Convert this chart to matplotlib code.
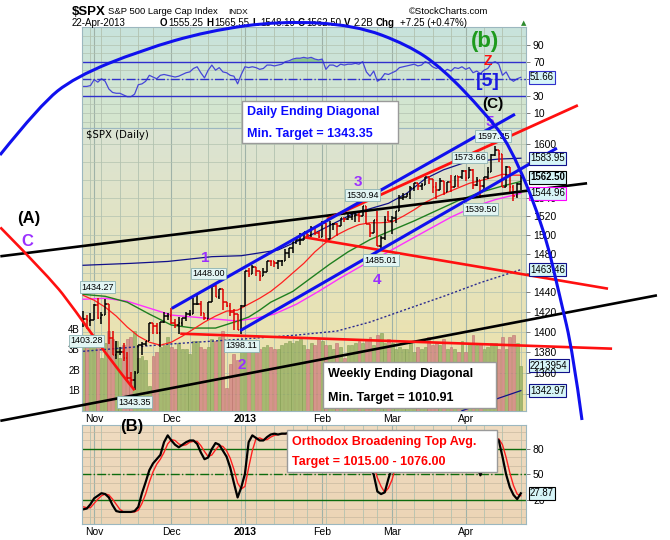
import numpy as np
import pandas as pd
import matplotlib
matplotlib.use("Agg")
import matplotlib.pyplot as plt
import matplotlib.transforms as mtrans
from matplotlib.colors import to_rgb
from matplotlib.path import Path
from matplotlib.patches import PathPatch, Rectangle

plt.rcParams['font.family'] = ['Liberation Sans', 'DejaVu Sans']

# trading days (Sandy closure + holidays removed), day 0 = 1 Nov 2012
holidays = ['2012-10-29', '2012-10-30', '2012-11-22', '2012-12-25',
            '2013-01-01', '2013-01-21', '2013-02-18', '2013-03-29']
dates = pd.bdate_range('2012-10-25', '2013-04-22')
dates = dates[~dates.isin(pd.to_datetime(holidays))]
day = np.arange(len(dates)) - 3

# OHLC, one line per month (Oct, Nov, Dec, Jan, Feb, Mar, Apr)
opens = [1409.74, 1412.97, 1410.99,
         1412.20, 1427.59, 1414.02, 1417.26, 1428.27, 1394.53, 1377.55, 1379.86, 1380.03, 1374.64, 1355.41, 1353.36, 1359.88, 1386.82, 1387.79, 1391.03, 1409.15, 1406.29, 1398.77, 1409.96, 1415.95,
         1416.34, 1409.46, 1407.05, 1409.43, 1413.95, 1418.07, 1418.55, 1427.84, 1428.48, 1419.45, 1413.54, 1430.47, 1446.79, 1435.81, 1443.67, 1430.15, 1426.66, 1419.83, 1418.10, 1402.43,
         1426.19, 1462.42, 1459.37, 1466.47, 1461.89, 1457.15, 1461.02, 1472.12, 1472.05, 1470.67, 1472.33, 1472.63, 1480.95, 1485.98, 1492.56, 1494.81, 1494.82, 1502.96, 1500.18, 1507.84, 1501.96,
         1498.11, 1513.17, 1495.71, 1511.29, 1512.12, 1509.39, 1517.93, 1517.01, 1519.43, 1520.33, 1521.38, 1519.79, 1530.94, 1511.95, 1502.42, 1515.60, 1487.85, 1496.94, 1515.99,
         1514.68, 1518.20, 1525.20, 1539.79, 1541.46, 1544.26, 1551.15, 1556.22, 1552.48, 1554.52, 1563.21, 1560.70, 1552.10, 1548.34, 1558.71, 1545.90, 1556.89, 1551.69, 1563.75, 1562.86,
         1569.18, 1562.17, 1570.25, 1553.69, 1559.98, 1553.26, 1563.11, 1568.61, 1587.73, 1593.30, 1588.84, 1552.36, 1574.57, 1552.03, 1541.61, 1555.25]
highs = [1421.12, 1417.09, 1418.76,
         1428.35, 1434.27, 1419.90, 1433.38, 1428.27, 1401.23, 1391.39, 1384.87, 1388.81, 1380.13, 1360.62, 1362.03, 1386.89, 1389.77, 1391.25, 1409.16, 1409.15, 1409.01, 1410.31, 1419.70, 1418.86,
         1423.73, 1413.14, 1415.56, 1413.95, 1420.34, 1421.64, 1434.27, 1438.59, 1431.36, 1419.45, 1430.67, 1448.00, 1447.75, 1443.70, 1443.67, 1430.15, 1429.42, 1422.80, 1418.10, 1426.74,
         1462.43, 1465.47, 1467.94, 1466.47, 1461.89, 1464.73, 1472.30, 1472.75, 1472.05, 1473.31, 1473.96, 1485.16, 1485.98, 1492.56, 1496.13, 1502.27, 1503.26, 1503.23, 1509.35, 1509.94, 1504.19,
         1514.41, 1513.17, 1514.96, 1512.53, 1512.90, 1518.31, 1518.31, 1522.29, 1524.69, 1523.14, 1524.24, 1530.94, 1530.94, 1511.95, 1515.64, 1525.84, 1498.99, 1520.08, 1525.34,
         1519.99, 1525.27, 1543.47, 1545.25, 1545.78, 1552.48, 1556.27, 1556.77, 1556.39, 1563.32, 1563.62, 1560.70, 1557.25, 1561.56, 1558.71, 1557.74, 1564.91, 1563.95, 1564.07, 1570.28,
         1570.57, 1573.66, 1571.47, 1562.60, 1559.98, 1563.07, 1573.89, 1589.07, 1597.35, 1593.30, 1588.84, 1575.35, 1574.57, 1554.38, 1555.89, 1565.55]
lows = [1405.14, 1403.28, 1405.95,
        1412.20, 1412.91, 1408.13, 1417.26, 1388.14, 1377.51, 1373.03, 1377.19, 1371.39, 1352.50, 1348.05, 1343.35, 1359.88, 1377.04, 1386.39, 1391.03, 1397.68, 1398.03, 1385.43, 1409.04, 1411.63,
        1408.46, 1403.65, 1398.23, 1405.93, 1410.90, 1415.64, 1418.55, 1426.76, 1416.00, 1411.88, 1413.54, 1430.47, 1435.80, 1432.82, 1422.58, 1424.66, 1416.43, 1401.80, 1401.58, 1398.11,
        1426.19, 1455.53, 1458.99, 1456.62, 1451.64, 1457.15, 1461.02, 1467.58, 1465.69, 1463.76, 1467.60, 1472.63, 1475.81, 1481.16, 1489.90, 1489.46, 1494.82, 1496.33, 1498.09, 1500.11, 1496.76,
        1498.11, 1495.02, 1495.71, 1504.71, 1498.49, 1509.39, 1513.61, 1515.61, 1515.93, 1514.02, 1514.14, 1519.79, 1511.41, 1497.29, 1502.42, 1487.85, 1485.01, 1494.88, 1514.46,
        1501.48, 1512.29, 1525.20, 1538.11, 1541.46, 1539.19, 1547.36, 1548.24, 1548.25, 1554.52, 1555.74, 1545.13, 1538.57, 1548.34, 1543.55, 1545.90, 1546.22, 1551.69, 1551.90, 1561.08,
        1558.47, 1562.17, 1549.80, 1552.52, 1539.50, 1548.63, 1560.92, 1568.61, 1586.17, 1579.97, 1552.28, 1552.36, 1543.69, 1536.03, 1539.40, 1548.19]
closes = [1412.97, 1411.94, 1412.16,
          1427.59, 1414.20, 1417.26, 1428.39, 1394.53, 1377.51, 1379.85, 1380.03, 1374.53, 1355.49, 1353.33, 1359.88, 1386.89, 1387.81, 1391.03, 1409.15, 1406.29, 1398.94, 1409.93, 1415.95, 1416.18,
          1409.46, 1407.05, 1409.28, 1413.94, 1418.07, 1418.55, 1427.84, 1428.48, 1419.45, 1413.58, 1430.36, 1446.79, 1435.81, 1443.69, 1430.15, 1426.66, 1419.83, 1418.10, 1402.43, 1426.19,
          1462.42, 1459.37, 1466.47, 1461.89, 1457.15, 1461.02, 1472.12, 1472.05, 1470.68, 1472.34, 1472.63, 1480.94, 1485.98, 1492.56, 1494.81, 1494.82, 1502.96, 1500.18, 1507.84, 1501.96, 1498.11,
          1513.17, 1495.71, 1511.29, 1512.12, 1509.39, 1517.93, 1517.01, 1519.43, 1520.33, 1521.38, 1519.79, 1530.94, 1511.95, 1502.42, 1515.60, 1487.85, 1496.94, 1515.99, 1514.68,
          1518.20, 1525.20, 1539.79, 1541.46, 1544.26, 1551.18, 1556.22, 1552.48, 1554.52, 1563.23, 1560.70, 1552.10, 1548.34, 1558.71, 1545.80, 1556.89, 1551.69, 1563.77, 1562.85, 1569.19,
          1562.17, 1570.25, 1553.69, 1559.98, 1553.28, 1563.07, 1568.61, 1587.73, 1593.37, 1588.85, 1552.36, 1574.57, 1552.01, 1541.61, 1555.25, 1562.50]
# volume in billions
volume_b = [3.3, 3.2, 3.6,
            3.7, 3.4, 2.6, 3.3, 3.9, 3.5, 3.4, 2.6, 3.2, 3.5, 3.6, 3.9, 2.6, 2.7, 2.5, 1.2, 2.7, 2.9, 3.1, 3.2, 3.6,
            3.1, 3.0, 3.3, 3.0, 3.0, 2.8, 3.4, 3.4, 3.1, 3.0, 3.1, 3.5, 3.4, 3.6, 3.9, 1.1, 2.3, 2.8, 2.5, 3.1,
            3.3, 3.2, 3.0, 3.2, 3.0, 3.1, 3.2, 3.1, 3.0, 3.0, 3.2, 3.3, 3.4, 3.3, 3.4, 3.5, 3.2, 3.0, 3.3, 3.2, 3.5,
            3.4, 3.2, 3.2, 3.0, 3.3, 3.1, 2.6, 3.2, 3.2, 3.3, 3.4, 3.3, 3.5, 3.6, 3.2, 3.7, 3.8, 3.3, 3.5,
            3.3, 3.0, 3.1, 3.0, 3.0, 3.3, 2.9, 3.1, 3.0, 3.1, 3.6, 3.2, 3.3, 3.2, 3.5, 3.0, 3.1, 3.0, 2.9, 3.4,
            2.9, 3.3, 3.7, 3.2, 3.3, 3.0, 3.1, 3.3, 3.3, 3.0, 3.6, 3.0, 3.6, 3.7, 3.3, 2.213954]
rsi = [41, 41, 42,
       49, 46, 50, 47, 38, 34, 33, 33, 31, 29, 29, 32, 43, 44, 47, 54, 52, 50, 54, 55, 54,
       53, 52, 53, 55, 57, 58, 62, 64, 57, 51, 60, 66, 60, 63, 58, 57, 54, 53, 44, 55,
       64, 63, 64, 63, 61, 62, 66, 66, 65, 66, 67, 70, 71, 73, 74, 74, 75, 74, 75, 73, 72,
       73, 61, 66, 66, 64, 67, 66, 67, 67, 68, 67, 70, 58, 53, 59, 47, 50, 56, 55,
       57, 59, 63, 64, 65, 66, 67, 65, 66, 70, 68, 64, 62, 64, 58, 61, 59, 63, 62, 64,
       61, 63, 57, 59, 56, 60, 62, 68, 70, 67, 54, 58, 50, 47, 50, 51.66]
stoch_k = [9, 10, 15,
           22, 25, 28, 27, 23, 14, 7, 6, 6, 6, 6, 7, 12, 28, 41, 55, 63, 68, 73, 88, 96,
           90, 85, 82, 85, 88, 90, 90, 86, 76, 68, 70, 80, 87, 85, 78, 71, 58, 40, 23, 35,
           51, 88, 96, 93, 90, 90, 94, 97, 98, 97, 98, 98, 99, 99, 98, 97, 97, 96, 97, 95, 93,
           94, 78, 80, 82, 80, 90, 91, 93, 94, 93, 92, 96, 76, 58, 50, 30, 27, 29, 45,
           59, 75, 90, 93, 95, 97, 98, 93, 93, 97, 94, 80, 72, 78, 64, 72, 70, 82, 85, 92,
           84, 88, 66, 60, 49, 62, 75, 92, 94, 90, 71, 50, 35, 26, 21, 27.87]
stoch_d = [12, 11, 11,
           16, 21, 25, 27, 26, 21, 15, 9, 6, 6, 6, 6, 8, 16, 27, 41, 53, 62, 68, 76, 86,
           91, 90, 86, 84, 85, 88, 89, 89, 84, 77, 71, 73, 79, 84, 83, 78, 69, 56, 40, 33,
           36, 58, 78, 92, 93, 91, 91, 94, 96, 97, 98, 98, 98, 99, 99, 98, 97, 97, 97, 96, 95,
           94, 88, 84, 80, 81, 84, 87, 91, 93, 93, 93, 94, 88, 77, 61, 46, 36, 29, 34,
           44, 60, 75, 86, 93, 95, 97, 96, 95, 94, 95, 90, 82, 77, 71, 71, 69, 75, 79, 86,
           87, 88, 79, 71, 58, 57, 62, 76, 87, 92, 85, 70, 52, 37, 27, 25]

assert len(set(map(len, [dates, opens, highs, lows, closes, volume_b, rsi, stoch_k, stoch_d]))) == 1, \
    [len(v) for v in [dates, opens, highs, lows, closes, volume_b, rsi, stoch_k, stoch_d]]

# overlay lines: (day, value)
ma_red_d = [-3, 0, 3, 6, 9, 12, 15, 18, 21, 24, 27, 30, 33, 36, 39, 42, 45, 48, 51, 54, 57, 60, 63, 66, 69, 72, 75, 78, 81, 84, 87, 90, 93, 96, 99, 102, 105, 108, 111, 114, 116]
ma_red_v = [1437, 1432, 1425, 1416, 1405, 1396, 1390, 1387, 1390, 1396, 1403, 1410, 1416, 1421, 1422, 1428, 1434, 1441, 1450, 1460, 1470, 1482, 1492, 1500, 1506, 1511, 1513, 1513, 1514, 1520, 1527, 1535, 1541, 1546, 1551, 1556, 1559, 1562, 1566, 1565, 1565]
ma_green_d = [-3, 3, 9, 15, 21, 27, 33, 39, 42, 45, 48, 54, 59, 64, 69, 75, 81, 87, 93, 99, 105, 111, 116]
ma_green_v = [1438, 1436, 1430, 1418, 1407, 1404, 1404, 1411, 1415, 1422, 1430, 1441, 1455, 1469, 1482, 1495, 1505, 1515, 1526, 1537, 1546, 1553, 1558]
ma_pink_d = [-3, 3, 9, 15, 21, 27, 33, 39, 44, 49, 55, 61, 67, 73, 79, 85, 91, 97, 103, 109, 116]
ma_pink_v = [1433, 1434, 1431, 1424, 1417, 1415, 1413, 1411, 1414, 1418, 1428, 1441, 1455, 1468, 1480, 1493, 1506, 1519, 1530, 1538, 1544.96]
band_up_d = [-3, 10, 20, 32, 40, 50, 59, 65, 70, 74, 80, 85, 90, 95, 100, 105, 110, 116]
band_up_v = [1468, 1470, 1472, 1477, 1478, 1484, 1500, 1512, 1522, 1527, 1534, 1545, 1561, 1571, 1578, 1581, 1583, 1583.95]
band_lo_d = [100, 116]
band_lo_v = [1324, 1342.97]
ma_long_d = [-3, 20, 40, 55, 66, 75, 85, 95, 105, 116]
ma_long_v = [1381, 1388, 1393, 1397, 1401, 1410, 1423, 1436, 1450, 1463.46]

# analyst trendlines (day, price)
black_upper = ([-25.5, 134.0], [1477.4, 1556.0])
black_lower = ([-25.5, 153.0], [1314.5, 1437.0])
red_flat = ([23.4, 140.8], [1398.4, 1383.6])
red_mid = ([57.3, 139.7], [1497.4, 1443.8])
red_upper = ([63.3, 131.5], [1516.9, 1644.6])
blue_upper = ([21.1, 114.4], [1423.7, 1634.2])
blue_lower = ([39.7, 125.8], [1401.4, 1595.3])
red_arc = ([-25.5, -12, -5.2, 3.8, 11], [1508, 1455, 1422, 1375, 1343.35])
# big blue arc drawn over the whole chart, in picture pixels
blue_arc_x = [0, 40, 75, 141.7, 208, 280, 355, 408, 442, 485, 510, 543, 560, 573, 582]
blue_arc_y = [155, 105, 77, 50, 31, 21, 25, 45, 68, 113, 145, 225, 297, 353, 420]

# price callouts: (day, price, dx, dy)
callouts = [(1, 1434.27, 0, 11), (-2, 1403.28, 0, -12), (11, 1343.35, 0, -12),
            (32, 1448.00, -3, 11), (40, 1398.11, 0, -12), (73, 1530.94, 0, 11),
            (78, 1485.01, 0, -11), (102, 1573.66, 0, 10), (109, 1597.35, -2, 10),
            (105, 1539.50, 0, -11)]

month_idx = [0, 21, 41, 62, 81, 101]
month_lbl = ['Nov', 'Dec', '2013', 'Feb', 'Mar', 'Apr']

# ---------------- figure ----------------
W, H = 670, 540
fig = plt.figure(figsize=(W / 100, H / 100), dpi=100)
PX = mtrans.Affine2D().scale(1 / W, -1 / H).translate(0, 1) + fig.transFigure


def panel(top, bottom):
    return [82 / W, 1 - bottom / H, 444 / W, (bottom - top) / H]


ax_rsi = fig.add_axes(panel(27, 128))
axv = fig.add_axes(panel(128, 411))
ax = fig.add_axes(panel(128, 411))
ax_st = fig.add_axes(panel(425, 524))


def shade(a, top, bottom):
    t = np.linspace(0, 1, 64)[:, None]
    img = (np.array(to_rgb(top)) * (1 - t) + np.array(to_rgb(bottom)) * t)[:, None, :]
    a.imshow(img, extent=[0, 1, 0, 1], transform=a.transAxes, aspect='auto',
             zorder=-5, interpolation='bilinear')


shade(ax_rsi, '#c8e3dc', '#d6e6cd')
shade(axv, '#dbe4d3', '#efe2a6')
shade(ax_st, '#efdbc0', '#ecd5b6')

grid_c = '#b2c2b0'
week_starts = [d for i, d in enumerate(day) if i > 0 and dates[i].weekday() < dates[i - 1].weekday()]
for a in (ax_rsi, axv, ax_st):
    for d in week_starts:
        a.axvline(d, color=grid_c, lw=0.6, zorder=-1)
    for d in month_idx:
        a.axvline(d, color='#9fb2a8', lw=0.8, zorder=-1)
    for s in a.spines.values():
        s.set_color('#9cb7bf')
        s.set_linewidth(0.8)
for s in ax.spines.values():
    s.set_visible(False)
ax.patch.set_visible(False)

XL = (-3.3, 117.4)

# ---- RSI panel ----
rsi_a = np.array(rsi, dtype=float)
for y in range(0, 101, 10):
    ax_rsi.axhline(y, color=grid_c, lw=0.5, zorder=-1)
ax_rsi.fill_between(day, rsi_a, 70, where=rsi_a > 70, color='#5fb55f', alpha=0.6, lw=0)
ax_rsi.plot(day, rsi_a, color='#4646d8', lw=0.9)
ax_rsi.axhline(70, color='#3030cc', lw=1.0)
ax_rsi.axhline(30, color='#3030cc', lw=1.0)
ax_rsi.axhline(50, color='#3030cc', lw=1.0, ls='-.')
ax_rsi.set_xlim(XL)
ax_rsi.set_ylim(-7.6, 110.5)
ax_rsi.set_xticks([])
ax_rsi.yaxis.tick_right()
# 50 sits under the value tag, so no label there
ax_rsi.set_yticks([10, 30, 50, 70, 90], ['10', '30', '', '70', '90'])

# ---- volume (under the price bars) ----
up = [True] + [closes[i] >= closes[i - 1] for i in range(1, len(closes))]
vol_c = ['#9fb56b' if u else '#d48c88' for u in up]
vol_e = ['#7f9a52' if u else '#b86f6c' for u in up]
axv.bar(day, volume_b, width=0.78, color=vol_c, edgecolor=vol_e, lw=0.4, alpha=0.9, zorder=1)
axv.set_xlim(XL)
axv.set_ylim(0, 13.8)
axv.set_xticks([])
axv.set_yticks([1, 2, 3, 4], ['1B', '2B', '3B', '4B'])
axv.tick_params(axis='y', length=0, pad=1.5, labelsize=7)

# ---- price panel ----
ax.set_yscale('log')
ax.set_ylim(1323.7, 1618.3)
ax.set_xlim(XL)
price_ticks = list(range(1340, 1601, 20))
hidden = {1340, 1460, 1560, 1580}  # covered by the value tags
hgrid = mtrans.blended_transform_factory(axv.transAxes, ax.transData)
for p in price_ticks:
    axv.plot([0, 1], [p, p], transform=hgrid, color=grid_c, lw=0.5, zorder=-1)

ax.plot(ma_long_d, ma_long_v, color='#2a2a90', lw=1.0, ls=(0, (1.5, 1.5)), zorder=2)
ax.plot(band_up_d, band_up_v, color='#10108a', lw=0.9, zorder=2)
ax.plot(band_lo_d, band_lo_v, color='#10108a', lw=0.9, zorder=2)
ax.plot(ma_pink_d, ma_pink_v, color='#ff30ff', lw=1.0, zorder=2)
ax.plot(ma_green_d, ma_green_v, color='#1f7f1f', lw=1.0, zorder=2)
ax.plot(ma_red_d, ma_red_v, color='#ff2020', lw=0.9, zorder=2)

bar_c = ['#000000' if u else '#e00000' for u in up]
ax.vlines(day, lows, highs, colors=bar_c, lw=1.1, zorder=3)
ax.hlines(opens, day - 0.45, day, colors=bar_c, lw=1.1, zorder=3)
ax.hlines(closes, day, day + 0.45, colors=bar_c, lw=1.1, zorder=3)

for (xs, ys), col, lw in [(black_upper, 'black', 1.9), (black_lower, 'black', 1.9),
                          (red_flat, '#ff1010', 1.9), (red_mid, '#ff1010', 1.9),
                          (red_upper, '#ff1010', 2.0), (blue_upper, '#1010ee', 2.2),
                          (blue_lower, '#1010ee', 2.2)]:
    ax.plot(xs, ys, color=col, lw=lw, clip_on=False, zorder=5, solid_capstyle='butt')


def smooth_path(xs, ys):
    pts = list(zip(xs, ys))
    verts, codes = [pts[0]], [Path.MOVETO]
    for i in range(1, len(pts) - 1):
        end = pts[i + 1] if i == len(pts) - 2 else ((pts[i][0] + pts[i + 1][0]) / 2, (pts[i][1] + pts[i + 1][1]) / 2)
        verts += [pts[i], end]
        codes += [Path.CURVE3, Path.CURVE3]
    return Path(verts, codes)


ax.add_patch(PathPatch(smooth_path(*red_arc), transform=ax.transData, fill=False,
                       ec='#ff1010', lw=1.9, clip_on=False, zorder=5))

for d, p, dx, dy in callouts:
    ax.annotate(f'{p:.2f}', xy=(d, p), xytext=(dx, dy), textcoords='offset pixels',
                ha='center', va='center', fontsize=6.5, zorder=6, annotation_clip=False,
                bbox=dict(boxstyle='square,pad=0.15', fc='#e2f5f3', ec='#8db2b2', lw=0.6))

ax.text(0.009, 0.975, '$SPX (Daily)', transform=ax.transAxes, fontsize=7.3,
        family='DejaVu Sans', va='center', ha='left')
ax.yaxis.tick_right()
ax.yaxis.set_minor_locator(matplotlib.ticker.NullLocator())
ax.set_yticks(price_ticks, ['' if p in hidden else str(p) for p in price_ticks])
ax.set_xticks(month_idx, month_lbl)

# ---- stochastics ----
for y in range(0, 101, 10):
    ax_st.axhline(y, color='#c9b9a0', lw=0.5, zorder=-1)
ax_st.axhline(80, color='#0d6b0d', lw=1.0)
ax_st.axhline(20, color='#0d6b0d', lw=1.0)
ax_st.axhline(50, color='#0d6b0d', lw=1.0, ls='-.')
ax_st.plot(day, stoch_d, color='#ff2020', lw=1.0)
ax_st.plot(day, stoch_k, color='#000000', lw=1.6)
ax_st.set_xlim(XL)
ax_st.set_ylim(-8.2, 108.2)
ax_st.yaxis.tick_right()
ax_st.set_yticks([20, 50, 80])
ax_st.set_xticks(month_idx, month_lbl)

for a in (ax_rsi, ax, ax_st):
    a.tick_params(axis='y', length=3, width=0.6, color='#666666', pad=2, labelsize=7.5)
for a in (ax, ax_st):
    a.tick_params(axis='x', length=0, pad=2, labelsize=7.5)
    a.get_xticklabels()[2].set_fontweight('bold')


# ---- value tags on the right edge ----
def tag(a, val, txt, ec, bold=False):
    a.annotate(txt, xy=(1, val), xycoords=('axes fraction', 'data'), xytext=(4, 0),
               textcoords='offset pixels', ha='left', va='center', fontsize=6.9,
               fontweight='bold' if bold else 'normal', annotation_clip=False, zorder=7,
               bbox=dict(boxstyle='square,pad=0.15', fc='#d6f5f8', ec=ec, lw=0.8))


tag(ax_rsi, rsi[-1], f'{rsi[-1]:.2f}', '#3030cc')
tag(ax, band_up_v[-1], f'{band_up_v[-1]:.2f}', '#10108a')
tag(ax, closes[-1], f'{closes[-1]:.2f}', 'black', bold=True)
tag(ax, ma_pink_v[-1], f'{ma_pink_v[-1]:.2f}', '#ff00ff')
tag(ax, ma_long_v[-1], f'{ma_long_v[-1]:.2f}', '#10108a')
tag(axv, volume_b[-1], f'{volume_b[-1] * 1e6:.0f}', '#10108a')
tag(ax, band_lo_v[-1], f'{band_lo_v[-1]:.2f}', '#10108a')
tag(ax_st, stoch_k[-1], f'{stoch_k[-1]:.2f}', 'black')

# ---- header ----
fig.text(72, 12, '$SPX', transform=PX, fontsize=9.5, fontweight='bold', va='center')
fig.text(108, 12, 'S&P 500 Large Cap Index', transform=PX, fontsize=6.8, va='center')
fig.text(228, 12.5, 'INDX', transform=PX, fontsize=6, va='center')
fig.text(488, 12, '©StockCharts.com', transform=PX, fontsize=6.8, va='center', ha='right')
fig.text(72, 23, '22-Apr-2013', transform=PX, fontsize=7, va='center')
for x, s, b in [(160, 'O', True), (168, '1555.25', False), (206, 'H', True), (214, '1565.55', False),
                (252, 'L', True), (260, '1548.19', False), (298, 'C', True), (306, '1562.50', False),
                (344, 'V', True), (354, '2.2B', False), (376, 'Chg', True), (400, '+7.25 (+0.47%)', False)]:
    fig.text(x, 23, s, transform=PX, fontsize=7, va='center', fontweight='bold' if b else 'normal')
fig.text(521, 23, '▲', transform=PX, fontsize=5, va='center', color='#2e8b2e', family='DejaVu Sans')

# ---- note boxes ----
for (x0, y0, x1, y1), lines, col in [((242, 101, 398, 143), ('Daily Ending Diagonal', 'Min. Target = 1343.35'), '#0a0aff'),
                                     ((323, 362, 496, 408), ('Weekly Ending Diagonal', 'Min. Target = 1010.91'), 'black'),
                                     ((287, 430, 497, 472), ('Orthodox Broadening Top Avg.', 'Target = 1015.00 - 1076.00'), '#ff0000')]:
    fig.add_artist(Rectangle((x0, y0), x1 - x0, y1 - y0, transform=PX, fc='white', ec='#9a9a9a', lw=1.0, zorder=8))
    gap = (y1 - y0) / 2
    for k, s in enumerate(lines):
        fig.text(x0 + 5, y0 + gap * (k + 0.5) + 1, s, transform=PX, fontsize=9, fontweight='bold',
                 color=col, va='center', zorder=9)

# ---- wave labels ----
purple = '#9b30ff'
for x, y, s, c, fs in [(29, 219, '(A)', 'black', 12), (27, 242, 'C', purple, 12),
                       (485, 42, '(b)', '#1e9a1e', 16), (488, 61, 'Z', '#ff1010', 10),
                       (488, 82, '[5]', '#1a1ae0', 14), (493, 104, '(C)', 'black', 11),
                       (490, 122, '5', purple, 11), (358, 182, '3', purple, 11),
                       (377, 280, '4', purple, 11), (205, 258, '1', purple, 11),
                       (242, 365, '2', purple, 11), (132, 427, '(B)', 'black', 12)]:
    fig.text(x, y, s, transform=PX, fontsize=fs, fontweight='bold', color=c,
             ha='center', va='center', zorder=9)

fig.add_artist(PathPatch(smooth_path(blue_arc_x, blue_arc_y), transform=PX, fill=False,
                         ec='#1010ee', lw=2.2, zorder=10))

fig.savefig('out.png', dpi=100)
